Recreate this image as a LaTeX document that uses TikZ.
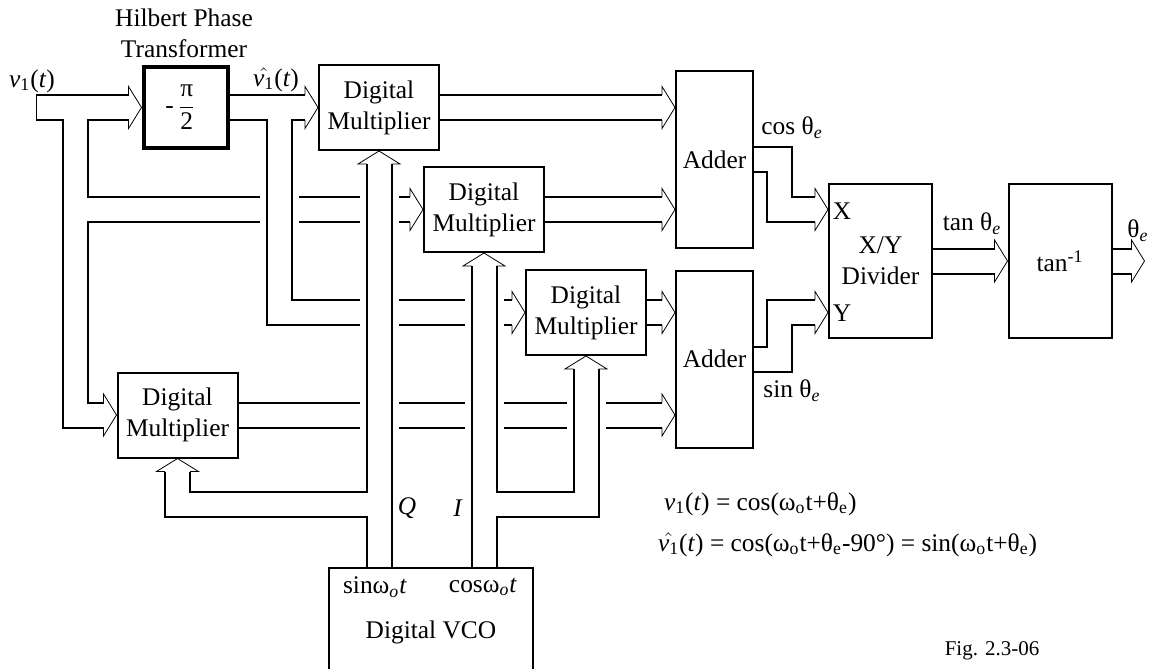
\documentclass[tikz,border=0pt]{standalone}
\usepackage{fontspec}
\setmainfont{Liberation Serif}
\usetikzlibrary{calc}
\pgfdeclarelayer{background}
\pgfsetlayers{background,main}

\newcommand{\bus}[1]{%
  \draw[white,line width=19.5pt] #1;
  \draw[line width=13.5pt] #1;
  \draw[white,line width=11.5pt] #1;}
\newcommand{\headR}[1]{\draw ($#1+(-13,-12.5)$) -- ($#1+(-13,-21)$) -- #1 -- ($#1+(-13,21)$) -- ($#1+(-13,12.5)$);}
\newcommand{\headU}[1]{\draw ($#1+(-12.5,13)$) -- ($#1+(-21,13)$) -- #1 -- ($#1+(21,13)$) -- ($#1+(12.5,13)$);}

\begin{document}
\begin{tikzpicture}[x=0.5pt,y=-0.5pt,line width=1pt,
  every node/.style={font=\fontsize{12.7}{15.5}\selectfont,inner sep=0pt,align=center},
  hil/.style={draw,line width=2pt,minimum width=42pt,minimum height=40.5pt},
  mult/.style={draw,minimum width=60pt,minimum height=42.5pt},
  adder/.style={draw,minimum width=38.5pt,minimum height=88.5pt},
  divr/.style={draw,minimum width=51.5pt,minimum height=77pt},
  vco/.style={draw,minimum width=102pt,minimum height=53pt}]
  \useasboundingbox (0,0) rectangle (1151,669);

  \node[hil] (Hil) at (185.5,107.5) {-\,${\displaystyle\frac{\mbox{π}}{\mbox{2}}}$\hspace{5pt}};
  \node[mult] (M1) at (379,107.5) {Digital\\Multiplier};
  \node[mult] (M2) at (484,209.5) {Digital\\Multiplier};
  \node[mult] (M3) at (586,312.5) {Digital\\Multiplier};
  \node[mult] (M4) at (177.5,415) {Digital\\Multiplier};
  \node[adder] (Add1) at (714.5,159.5) {Adder};
  \node[adder] (Add2) at (714.5,359) {Adder};
  \node[divr] (Div) at (880.5,261) {X/Y\\Divider};
  \node[divr] (Tan) at (1060,261) {tan\textsuperscript{-1}};
  \node[vco] (VCO) at (431,621) {};

  \node (hlbl) at (184,33) {Hilbert Phase\\Transformer};
  \node (v1l) at (32,81) {\textit{v}\textsubscript{1}(\textit{t})};
  \node (v2l) at (276,80) {$\hat{\mbox{\textit{v}\textsubscript{1}}}$(\textit{t})};
  \node (cosl) at (792,128) {cos θ\textsubscript{\textit{e}}};
  \node (sinl) at (792,391) {sin θ\textsubscript{\textit{e}}};
  \node (xl) at (842,211) {X};
  \node (yl) at (842,313) {Y};
  \node (tanl) at (972,224) {tan θ\textsubscript{\textit{e}}};
  \node (thl) at (1138,231) {θ\textsubscript{\textit{e}}};
  \node (ql) at (407,508) {\textit{Q}};
  \node (il) at (458,508) {\textit{I}};
  \node (sinw) at (375,587) {sinω\textsubscript{\textit{o}}\textit{t}};
  \node (cosw) at (483,587) {cosω\textsubscript{\textit{o}}\textit{t}};
  \node (vcol) at (431,632) {Digital VCO};
  \node[anchor=west] (eq1) at (663,504) {\textit{v}\textsubscript{1}(\textit{t}) = cos(ω\textsubscript{o}t+θ\textsubscript{e})};
  \node[anchor=west] (eq2) at (657,545) {$\hat{\mbox{\textit{v}\textsubscript{1}}}$(\textit{t}) = cos(ω\textsubscript{o}t+θ\textsubscript{e}-90°) = sin(ω\textsubscript{o}t+θ\textsubscript{e})};
  \node[font=\fontsize{10.5}{12}\selectfont] (fig) at (992,651) {Fig. 2.3-06};

  \coordinate (in) at (36,107.5);
  \coordinate (vx) at (75,107.5);
  \coordinate (hx) at (279,107.5);
  \coordinate (br) at (0,504);
  \coordinate (a1a) at (Add1.west |- M1.east);
  \coordinate (a1b) at (Add1.west |- M2.east);
  \coordinate (a2a) at (Add2.west |- M3.east);
  \coordinate (a2b) at (Add2.west |- M4.east);
  \coordinate (dx) at (Div.west |- M2.east);
  \coordinate (dy) at (Div.west |- M3.east);
  \coordinate (out) at ($(Tan.east)+(32,0)$);

  \begin{pgfonlayer}{background}
  \bus{(in) -- ($(Hil.west)+(-13,0)$) (vx) |- ($(M4.west)+(-13,0)$) (vx |- M2.west) -- ($(M2.west)+(-13,0)$)}
  \bus{(M4.east) -- ($(a2b)+(-13,0)$)}
  \bus{(M1.east) -- ($(a1a)+(-13,0)$)}
  \bus{(M2.east) -- ($(a1b)+(-13,0)$)}
  \bus{(M3.east) -- ($(a2a)+(-13,0)$)}
  \bus{(Add1.east) -- ++(25,0) |- ($(dx)+(-13,0)$)}
  \bus{(Add2.east) -- ++(25,0) |- ($(dy)+(-13,0)$)}
  \bus{(Div.east) -- ($(Tan.west)+(-13,0)$)}
  \bus{(Tan.east) -- ($(out)+(-13,0)$)}
  \bus{(Hil.east) -- ($(M1.west)+(-13,0)$) (hx) |- ($(M3.west)+(-13,0)$)}
  \bus{(M1.south |- VCO.north) -- ($(M1.south)+(0,13)$) (M1.south |- br) -| ($(M4.south)+(0,13)$)}
  \bus{(M2.south |- VCO.north) -- ($(M2.south)+(0,13)$) (M2.south |- br) -| ($(M3.south)+(0,13)$)}
  \draw ($(in)+(0,-12.5)$) -- ($(in)+(0,12.5)$);
  \headR{(Hil.west)} \headR{(M1.west)} \headR{(M2.west)} \headR{(M3.west)} \headR{(M4.west)}
  \headR{(a1a)} \headR{(a1b)} \headR{(a2a)} \headR{(a2b)}
  \headR{(dx)} \headR{(dy)} \headR{(Tan.west)} \headR{(out)}
  \headU{(M1.south)} \headU{(M2.south)} \headU{(M3.south)} \headU{(M4.south)}
  \end{pgfonlayer}
\end{tikzpicture}
\end{document}
